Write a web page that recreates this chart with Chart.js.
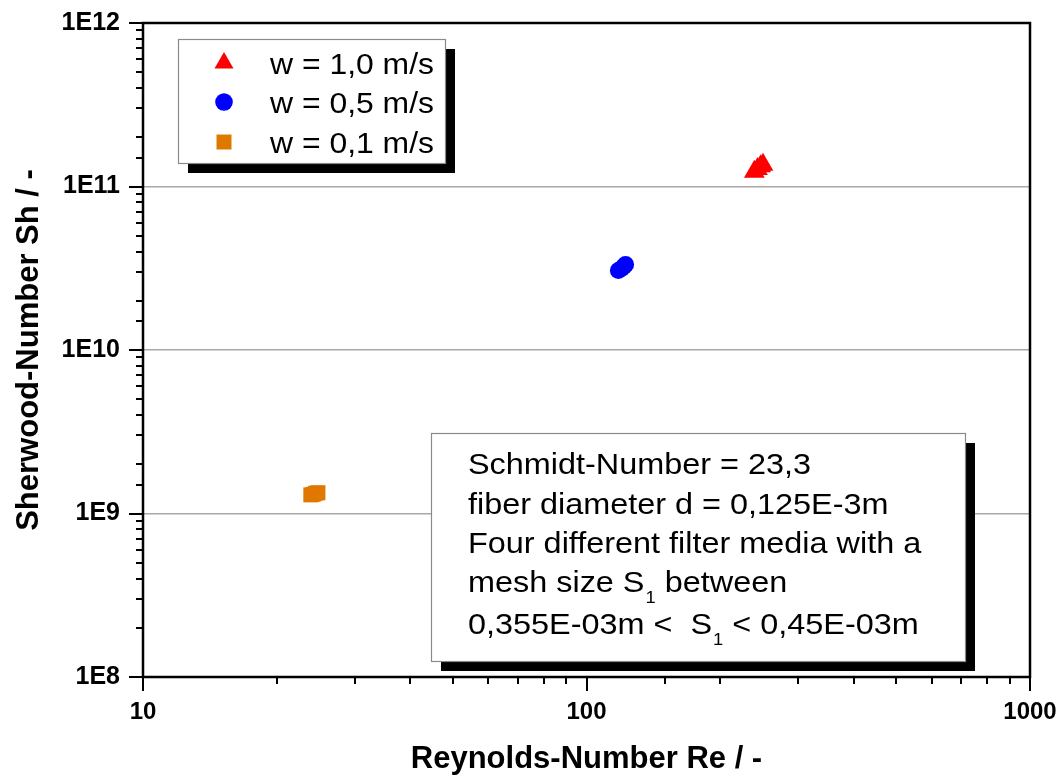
<!DOCTYPE html>
<html><head><meta charset="utf-8">
<script src="https://cdn.jsdelivr.net/npm/chart.js@4/dist/chart.umd.min.js"></script>
<style>html,body{margin:0;padding:0;background:#fff;overflow:hidden}#wrap{width:1058px;height:779px;position:relative}</style>
</head><body><div id="wrap"><canvas id="c"></canvas></div>
<script>
// ---- data ----
const seriesLabels = ['w = 1,0 m/s', 'w = 0,5 m/s', 'w = 0,1 m/s'];
const re10 = [239, 243, 247, 250];
const sh10 = [1.23e11, 1.28e11, 1.33e11, 1.36e11];
const re05 = [118, 120, 121.5, 122.5];
const sh05 = [3.06e10, 3.15e10, 3.25e10, 3.33e10];
const re01 = [23.9, 24.2, 24.5, 24.8];
const sh01 = [1.30e9, 1.31e9, 1.33e9, 1.34e9];
const xTickValues = [10, 100, 1000];
const xTickLabels = ['10', '100', '1000'];
const yTickValues = [1e8, 1e9, 1e10, 1e11, 1e12];
const yTickLabels = ['1E8', '1E9', '1E10', '1E11', '1E12'];
const xTitle = 'Reynolds-Number Re / -';
const yTitle = 'Sherwood-Number Sh / -';
// annotation lines: [text, subscript, rest]
const noteLines = [
  ['Schmidt-Number = 23,3', '', ''],
  ['fiber diameter d = 0,125E-3m', '', ''],
  ['Four different filter media with a', '', ''],
  ['mesh size S', '1', ' between'],
  ['0,355E-03m <  S', '1', ' < 0,45E-03m']
];

const FONT = "'Liberation Sans', Arial, sans-serif";
const isMajor = v => Math.abs(Math.log10(v) - Math.round(Math.log10(v))) < 1e-9;
const labelFor = (vals, labs, v) => {
  const i = vals.findIndex(t => Math.abs(Math.log10(t) - Math.log10(v)) < 1e-9);
  return i >= 0 ? labs[i] : '';
};
const pts = (xs, ys) => xs.map((v, i) => ({x: v, y: ys[i]}));

const frameTicks = {
  id: 'frameTicks',
  afterDatasetsDraw(chart) {
    const {ctx, chartArea: a, scales: {x, y}} = chart;
    ctx.save();
    ctx.strokeStyle = '#000';
    ctx.lineWidth = 2;
    ctx.beginPath();
    x.ticks.forEach(t => {
      const px = Math.round(x.getPixelForValue(t.value));
      const len = isMajor(t.value) ? 14 : 7;
      ctx.moveTo(px, a.bottom); ctx.lineTo(px, a.bottom + len);
    });
    y.ticks.forEach(t => {
      const py = Math.round(y.getPixelForValue(t.value));
      const len = isMajor(t.value) ? 14 : 7;
      ctx.moveTo(a.left, py); ctx.lineTo(a.left - len, py);
    });
    ctx.stroke();
    ctx.lineWidth = 2.5;
    ctx.strokeRect(a.left, a.top, a.right - a.left, a.bottom - a.top);
    ctx.restore();
  }
};

function shadowBox(ctx, x, y, w, h, off) {
  ctx.fillStyle = '#000';
  ctx.fillRect(x + off, y + off, w, h);
  ctx.fillStyle = '#fff';
  ctx.fillRect(x, y, w, h);
  ctx.strokeStyle = '#8a8a8a';
  ctx.lineWidth = 1.2;
  ctx.strokeRect(x + 0.5, y + 0.5, w, h);
}

const boxes = {
  id: 'boxes',
  afterDraw(chart) {
    const ctx = chart.ctx;
    ctx.save();
    // legend
    shadowBox(ctx, 178, 39, 267, 124, 10);
    const rows = [63, 102, 142];
    const legR = [11, 8.8, 10.6];
    chart.data.datasets.forEach((ds, i) => {
      ctx.fillStyle = ds.backgroundColor;
      Chart.helpers.drawPoint(ctx, {pointStyle: ds.pointStyle, radius: legR[i], rotation: 0, borderWidth: 0}, 224, rows[i]);
      ctx.save();
      ctx.translate(270, rows[i] + 11);
      ctx.scale(1.1, 1);
      ctx.fillStyle = '#000';
      ctx.font = '29px ' + FONT;
      ctx.textBaseline = 'alphabetic';
      ctx.fillText(ds.label, 0, 0);
      ctx.restore();
    });
    // annotation
    shadowBox(ctx, 431, 433, 534, 228, 10);
    const base = [474, 514, 553, 592, 634];
    noteLines.forEach((ln, i) => {
      ctx.save();
      ctx.translate(468, base[i]);
      ctx.scale(1.08, 1);
      ctx.fillStyle = '#000';
      ctx.textBaseline = 'alphabetic';
      ctx.font = '30px ' + FONT;
      ctx.fillText(ln[0], 0, 0);
      let cx = ctx.measureText(ln[0]).width;
      if (ln[1]) {
        ctx.font = '17px ' + FONT;
        ctx.fillText(ln[1], cx + 1, 11);
        cx += ctx.measureText(ln[1]).width + 1;
        ctx.font = '30px ' + FONT;
        ctx.fillText(ln[2], cx, 0);
      }
      ctx.restore();
    });
    ctx.restore();
  }
};

new Chart(document.getElementById('c'), {
  type: 'scatter',
  data: {
    datasets: [
      {label: seriesLabels[0], data: pts(re10, sh10), pointStyle: 'triangle', pointRadius: 12, backgroundColor: '#ff0000', borderWidth: 0},
      {label: seriesLabels[1], data: pts(re05, sh05), pointStyle: 'circle', pointRadius: 8.5, backgroundColor: '#0000ff', borderWidth: 0},
      {label: seriesLabels[2], data: pts(re01, sh01), pointStyle: 'rect', pointRadius: 10.6, backgroundColor: '#e07800', borderWidth: 0}
    ]
  },
  options: {
    responsive: true,
    maintainAspectRatio: false,
    animation: false,
    events: [],
    layout: {padding: {top: 23, right: 28, left: 0, bottom: 0}},
    plugins: {legend: {display: false}, tooltip: {enabled: false}},
    scales: {
      x: {
        type: 'logarithmic', min: 10, max: 1000,
        afterFit: s => { s.height = 102; s.paddingLeft = 0; s.paddingRight = 0; },
        grid: {display: false, drawTicks: false},
        border: {display: false},
        ticks: {
          autoSkip: false, maxRotation: 0, padding: 21, color: '#000',
          font: {family: FONT, size: 24, weight: 'bold'},
          callback: v => labelFor(xTickValues, xTickLabels, v)
        },
        title: {display: true, text: xTitle, color: '#000', font: {family: FONT, size: 31, weight: 'bold'}, padding: {top: 0, bottom: 1}}
      },
      y: {
        type: 'logarithmic', min: 1e8, max: 1e12,
        afterFit: s => { s.width = 143; s.paddingTop = 0; s.paddingBottom = 0; },
        grid: {
          drawTicks: false,
          color: ctx => (ctx.tick && isMajor(ctx.tick.value)) ? '#a8a8a8' : 'rgba(0,0,0,0)',
          lineWidth: 1.5
        },
        border: {display: false},
        ticks: {
          autoSkip: false, padding: 23, color: '#000',
          font: {family: FONT, size: 25, weight: 'bold'},
          callback: v => labelFor(yTickValues, yTickLabels, v)
        },
        title: {display: true, text: yTitle, color: '#000', font: {family: FONT, size: 31, weight: 'bold'}, padding: {top: 11, bottom: 0}}
      }
    }
  },
  plugins: [frameTicks, boxes]
});
</script></body></html>
